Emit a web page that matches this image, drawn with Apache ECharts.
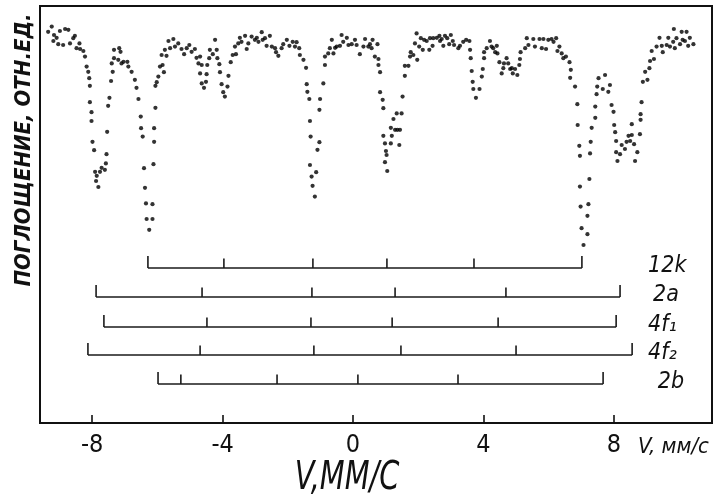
<!DOCTYPE html>
<html>
<head>
<meta charset="utf-8">
<script src="https://cdn.jsdelivr.net/npm/echarts@6/dist/echarts.min.js"></script>
<style>
html, body { margin: 0; background: #fff; }
#chart { width: 720px; height: 503px; }
</style>
</head>
<body>
<div id="chart"></div>
<script>
// Мессбауэровский спектр: скорость (мм/с) и поглощение (отн. ед.)
var velocity = [
  -9.24, -9.35, -8.99, -8.83, -8.73, -9.17, -9.09, -9.19, -9.04, -8.89, -8.68, -8.58, -8.53, -8.48, -8.37, -8.39,
  -8.27, -8.22, -8.17, -8.12, -8.09, -8.07, -8.07, -8.02, -8.02, -7.99, -7.94, -7.91, -7.86, -7.88, -7.81, -7.76,
  -7.71, -7.61, -7.58, -7.56, -7.54, -7.51, -7.47, -7.42, -7.37, -7.40, -7.33, -7.33, -7.17, -7.13, -7.20, -7.10,
  -7.04, -6.92, -6.89, -6.79, -6.69, -6.64, -6.58, -6.51, -6.50, -6.45, -6.41, -6.38, -6.35, -6.33, -6.25, -6.15,
  -6.15, -6.12, -6.10, -6.10, -6.06, -6.06, -6.02, -5.97, -5.92, -5.84, -5.80, -5.87, -5.77, -5.72, -5.66, -5.61,
  -5.51, -5.46, -5.36, -5.26, -5.18, -5.10, -5.02, -4.95, -4.85, -4.80, -4.74,
  -4.69, -4.64, -4.69, -4.64, -4.57, -4.51, -4.49, -4.47, -4.41, -4.39, -4.30, -4.23, -4.18, -4.16, -4.10, -4.08,
  -4.03, -3.98, -3.93, -3.85, -3.82, -3.75, -3.69, -3.59, -3.62, -3.52, -3.47, -3.42, -3.31, -3.26, -3.21, -3.11,
  -3.01, -2.95, -2.90, -2.80, -2.77, -2.70, -2.65, -2.55, -2.49, -2.39, -2.36, -2.29, -2.19, -2.14, -2.03, -1.95,
  -1.85, -1.78, -1.73, -1.65, -1.63, -1.52, -1.44, -1.42, -1.40, -1.34, -1.32, -1.30, -1.32, -1.27, -1.24, -1.17,
  -1.13, -1.09, -1.03, -1.03, -1.01, -0.91, -0.86, -0.86, -0.76, -0.71, -0.65, -0.60, -0.55, -0.50, -0.40, -0.35,
  -0.30, -0.19, -0.14, -0.04, 0.06, 0.11,
  0.21, 0.32, 0.37, 0.47, 0.52, 0.60, 0.57, 0.67, 0.75, 0.78, 0.78, 0.83, 0.83, 0.91, 0.93, 0.93,
  0.98, 1.01, 1.03, 0.98, 1.05, 1.16, 1.19, 1.16, 1.24, 1.29, 1.34, 1.36, 1.44, 1.42, 1.49, 1.52,
  1.59, 1.59, 1.70, 1.75, 1.77, 1.85, 1.90, 1.95, 1.97, 2.03, 2.08, 2.14, 2.18, 2.26, 2.34, 2.36,
  2.44, 2.46, 2.57, 2.65, 2.67, 2.72, 2.77, 2.82, 2.89, 2.95, 3.00, 3.06, 3.10, 3.23, 3.28, 3.38,
  3.47, 3.57, 3.59, 3.61, 3.64, 3.67, 3.69, 3.77, 3.88, 3.95, 3.98, 4.02, 4.02, 4.10, 4.20, 4.25,
  4.30, 4.36, 4.41, 4.43, 4.49, 4.56, 4.61, 4.63, 4.71, 4.76, 4.82, 4.87, 4.90, 4.97, 5.04, 5.10,
  5.12, 5.14, 5.28, 5.33, 5.38,
  5.53, 5.58, 5.72, 5.79, 5.84, 5.92, 5.99, 6.09, 6.15, 6.23, 6.27, 6.33, 6.40, 6.45, 6.53, 6.64,
  6.68, 6.66, 6.81, 6.88, 6.89, 6.94, 6.96, 6.96, 6.98, 7.01, 7.07, 7.19, 7.19, 7.22, 7.25, 7.27,
  7.29, 7.32, 7.43, 7.43, 7.47, 7.49, 7.53, 7.66, 7.73, 7.83, 7.88, 7.93, 7.99, 8.01, 8.04, 8.07,
  8.07, 8.11, 8.19, 8.24, 8.34, 8.39, 8.45, 8.50, 8.55, 8.55, 8.62, 8.65, 8.72, 8.80, 8.82, 8.82,
  8.85, 8.89, 8.96, 9.03, 9.09, 9.11, 9.23, 9.16, 9.31, 9.40, 9.47, 9.50, 9.62, 9.67, 9.72, 9.82,
  9.84, 9.87, 9.92, 10.03, 10.08, 10.11, 10.18, 10.23, 10.28, 10.33, 10.44
];
var absorption = [
  99.1, 97.8, 98.0, 98.5, 98.3, 97.0, 96.3, 95.5, 94.7, 94.5, 94.9, 96.2, 96.8, 93.7, 93.5, 94.9,
  93.0, 91.6, 89.1, 87.8, 86.2, 84.3, 80.2, 77.7, 75.5, 70.3, 68.2, 62.8, 61.8, 60.5, 59.0, 62.8,
  63.8, 63.3, 64.9, 67.2, 72.8, 79.3, 81.3, 85.5, 87.8, 89.9, 91.2, 93.3, 93.7, 92.8, 90.8, 89.9,
  90.3, 90.3, 89.1, 87.8, 85.8, 83.8, 81.0, 76.6, 73.7, 71.6, 63.7, 58.8, 54.9, 51.0, 48.3, 51.0,
  54.7, 64.7, 70.3, 73.7, 78.8, 84.3, 85.2, 86.6, 89.1, 89.5, 87.7, 92.0, 93.3, 91.8, 95.5, 93.7,
  96.0, 94.1, 94.9, 93.5, 92.2, 93.7, 94.5, 92.8, 93.5, 91.3, 89.9,
  91.6, 89.5, 87.4, 84.9, 83.8, 85.3, 87.2, 89.5, 91.2, 93.3, 92.2, 95.8, 93.3, 91.2, 89.7, 87.7,
  84.7, 82.7, 81.6, 84.1, 86.8, 90.2, 92.0, 92.2, 94.1, 94.9, 96.3, 95.3, 96.8, 93.5, 94.9, 96.6,
  95.8, 96.3, 95.3, 97.7, 95.8, 96.2, 94.3, 96.8, 94.1, 93.7, 92.7, 91.8, 93.7, 94.7, 95.8, 94.3,
  95.3, 94.1, 95.2, 93.7, 92.0, 90.8, 88.8, 84.7, 82.8, 81.0, 75.5, 71.6, 64.5, 61.6, 59.3, 56.6,
  62.7, 68.3, 70.2, 78.3, 81.0, 84.9, 89.5, 91.6, 92.4, 93.7, 95.8, 92.4, 93.8, 94.1, 94.3, 97.0,
  95.3, 96.3, 94.5, 94.7, 95.8, 94.5,
  92.2, 94.1, 96.0, 94.1, 94.7, 95.8, 93.7, 91.6, 94.7, 91.0, 89.5, 87.7, 82.7, 80.8, 78.7, 71.8,
  69.9, 68.0, 67.0, 65.2, 63.0, 69.9, 71.8, 73.8, 76.0, 73.3, 77.4, 73.3, 73.3, 69.5, 77.4, 81.6,
  86.8, 89.3, 89.3, 91.6, 92.7, 92.0, 94.9, 97.4, 90.8, 94.1, 96.2, 93.3, 95.8, 95.5, 93.3, 96.2,
  94.3, 96.2, 96.3, 96.8, 95.5, 96.0, 94.3, 96.8, 96.2, 94.7, 97.0, 95.5, 94.5, 93.7, 94.3, 95.3,
  95.8, 95.5, 93.3, 91.2, 88.0, 85.3, 83.5, 81.3, 83.5, 86.6, 88.5, 91.2, 92.7, 93.7, 95.5, 94.1,
  93.7, 92.7, 94.3, 92.4, 90.2, 87.4, 88.7, 89.9, 91.2, 89.9, 88.5, 88.7, 87.4, 88.5, 87.0, 89.5,
  91.0, 92.7, 93.7, 96.2, 94.5,
  96.0, 94.1, 96.0, 93.7, 96.0, 93.5, 95.8, 96.0, 95.3, 96.2, 93.0, 94.1, 92.4, 91.2, 91.6, 90.2,
  88.3, 86.3, 84.1, 79.7, 74.5, 69.3, 66.8, 59.1, 54.1, 48.7, 44.5, 47.2, 51.8, 54.7, 61.0, 67.4,
  70.3, 73.8, 76.3, 79.1, 82.2, 84.1, 86.2, 83.5, 87.0, 82.8, 84.5, 79.5, 77.8, 74.5, 72.7, 70.5,
  67.7, 65.5, 67.2, 69.5, 68.5, 70.3, 71.8, 70.5, 72.0, 74.7, 69.7, 65.5, 67.7, 72.2, 77.2, 75.8,
  80.2, 85.3, 87.8, 85.8, 88.7, 90.5, 91.0, 93.0, 94.1, 96.3, 94.3, 92.7, 94.5, 96.3, 94.1, 95.3,
  98.5, 93.7, 96.2, 94.7, 97.8, 95.8, 95.5, 97.8, 94.3, 96.3, 94.7
];

// штрих-диаграммы подспектров (положения линий секстетов, мм/с)
var siteNames = ['12k', '2a', '4f\u2081', '4f\u2082', '2b'];
var siteLevels = [38.75, 31.5, 24, 17, 9.75];
var siteLines = [
  [-6.29, -3.96, -1.23, 1.04, 3.71, 7.02],
  [-7.88, -4.63, -1.26, 1.29, 4.69, 8.19],
  [-7.64, -4.48, -1.29, 1.20, 4.45, 8.07],
  [-8.13, -4.69, -1.20, 1.47, 5.00, 8.56],
  [-5.98, -5.28, -2.33, 0.15, 3.22, 7.67]
];
var siteLabelX = [9.05, 9.2, 9.05, 9.05, 9.35];
var tickValues = [-8, -4, 0, 4, 8];

var handFont = "'Liberation Sans Narrow', 'DejaVu Sans Condensed', sans-serif";

var points = velocity.map(function (v, i) { return [v, absorption[i]]; });

function renderSite(params, api) {
  var k = params.dataIndex;
  var xs = siteLines[k], lvl = siteLevels[k];
  var st = { stroke: '#1a1a1a', lineWidth: 1.6 };
  var a = api.coord([xs[0], lvl]);
  var b = api.coord([xs[xs.length - 1], lvl]);
  var children = [{ type: 'line', shape: { x1: a[0], y1: a[1], x2: b[0], y2: b[1] }, style: st }];
  xs.forEach(function (x, i) {
    var end = (i === 0 || i === xs.length - 1);
    var p = api.coord([x, lvl]);
    var q = api.coord([x, lvl + (end ? 3 : 2.4)]);
    children.push({ type: 'line', shape: { x1: p[0], y1: p[1], x2: q[0], y2: q[1] }, style: st });
  });
  var t = api.coord([siteLabelX[k], lvl]);
  children.push({
    type: 'text', x: t[0], y: t[1] - 2,
    style: { text: siteNames[k], fill: '#111', font: 'italic 23px ' + handFont, verticalAlign: 'middle', align: 'left' }
  });
  return { type: 'group', children: children };
}

var myChart = echarts.init(document.getElementById('chart'));
myChart.setOption({
  animation: false,
  backgroundColor: '#fff',
  grid: { left: 40, right: 8, top: 6, bottom: 80, show: true, borderColor: '#111', borderWidth: 2, backgroundColor: 'transparent' },
  xAxis: {
    type: 'value', min: -9.6, max: 11.01,
    axisLine: { show: true, onZero: false, lineStyle: { color: '#111', width: 2 } },
    axisTick: { show: true, inside: true, length: 8, customValues: tickValues, lineStyle: { color: '#111', width: 1.6 } },
    axisLabel: {
      customValues: tickValues, margin: 10, color: '#111', fontSize: 25, fontFamily: handFont,
      formatter: function (v) { return v < 0 ? '-' + Math.abs(v) : String(v); }
    },
    splitLine: { show: false }
  },
  yAxis: {
    type: 'value', min: 0, max: 104.25,
    axisLine: { show: true, onZero: false, lineStyle: { color: '#111', width: 2 } },
    axisTick: { show: false }, axisLabel: { show: false }, splitLine: { show: false }
  },
  series: [
    {
      type: 'scatter', data: points, symbol: 'circle', symbolSize: 4.2,
      itemStyle: { color: '#000' }, silent: true
    },
    {
      type: 'custom', renderItem: renderSite, silent: true,
      data: siteLines.map(function (xs, k) { return [xs[0], siteLevels[k]]; })
    }
  ],
  graphic: [
    {
      type: 'text', x: 24, y: 150, rotation: Math.PI / 2, originX: 0, originY: 0,
      style: { text: 'ПОГЛОЩЕНИЕ, ОТН.ЕД.', fill: '#111', font: 'italic bold 22px ' + handFont, align: 'center', verticalAlign: 'middle' }
    },
    {
      type: 'text', x: 347, y: 479, scaleY: 1.2,
      style: { text: 'V,ММ/С', fill: '#111', font: 'italic 32px ' + handFont, align: 'center', verticalAlign: 'middle' }
    },
    {
      type: 'text', x: 638, y: 447,
      style: { text: 'V, мм/с', fill: '#111', font: 'italic 22px ' + handFont, align: 'left', verticalAlign: 'middle' }
    }
  ]
});
window.addEventListener('resize', function () {
  myChart.resize();
});
</script>
</body>
</html>
